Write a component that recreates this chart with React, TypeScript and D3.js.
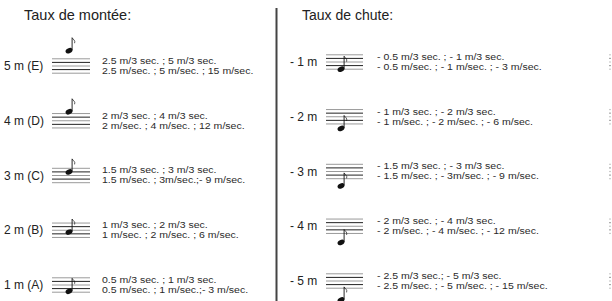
import * as d3 from 'd3'

// data
const riseLabels = ['5 m (E)', '4 m (D)', '3 m (C)', '2 m (B)', '1 m (A)']
const riseLine1 = ['2.5 m/3 sec. ; 5 m/3 sec.', '2 m/3 sec. ; 4 m/3 sec.', '1.5 m/3 sec. ; 3 m/3 sec.', '1 m/3 sec. ; 2 m/3 sec.', '0.5 m/3 sec. ; 1 m/3 sec.']
const riseLine2 = ['2.5 m/sec. ; 5 m/sec. ; 15 m/sec.', '2 m/sec. ; 4 m/sec. ; 12 m/sec.', '1.5 m/sec. ; 3m/sec.;- 9 m/sec.', '1 m/sec. ; 2 m/sec. ; 6 m/sec.', '0.5 m/sec. ; 1 m/sec.;- 3 m/sec.']
// note position in half-spaces below the top staff line
const riseNotePos = [-4.5, -1, 2, 5, 7.5]

const fallLabels = ['- 1 m', '- 2 m', '- 3 m', '- 4 m', '- 5 m']
const fallLine1 = ['- 0.5 m/3 sec. ; - 1 m/3 sec.', '- 1 m/3 sec. ; - 2 m/3 sec.', '- 1.5 m/3 sec. ; - 3 m/3 sec.', '- 2 m/3 sec. ; - 4 m/3 sec.', '- 2.5 m/3 sec.; - 5 m/3 sec.']
const fallLine2 = ['- 0.5 m/sec. ; - 1 m/sec. ; - 3 m/sec.', '- 1 m/sec. ; - 2 m/sec. ; - 6 m/sec.', '- 1.5 m/sec. ; - 3m/sec. ; - 9 m/sec.', '- 2 m/sec. ; - 4 m/sec. ; - 12 m/sec.', '- 2.5 m/sec. ; - 5 m/sec. ;  - 15 m/sec.']
const fallNotePos = [8, 10.5, 12, 13, 14.5]

const W = 612
const H = 301
const FONT = 'Liberation Sans, Arial, Helvetica, sans-serif'
const STAFF_GAP = 3.6
const lineColors = ['#9a9a9a', '#222', '#9a9a9a', '#222', '#9a9a9a']

const yLeft = d3.scaleLinear().domain([0, 4]).range([66, 285])
const yRight = d3.scaleLinear().domain([0, 4]).range([62, 281])

type ColProps = {
  labels: string[]
  line1: string[]
  line2: string[]
  pos: number[]
  y: d3.ScaleLinear<number, number>
  labelX: number
  staffX0: number
  staffX1: number
  noteX: number
  textX: number
  dotsX?: number
}

function Note({ x, y }: { x: number; y: number }) {
  const sx = x + 3.1
  const top = y - 13
  const flag = d3.path()
  flag.moveTo(sx, top)
  flag.bezierCurveTo(sx + 1, top + 2, sx + 3.5, top + 2.5, sx + 2.5, top + 5.5)
  return (
    <g>
      <ellipse cx={x} cy={y} rx={3.6} ry={2.5} transform={`rotate(-25 ${x} ${y})`} fill="#111" />
      <line x1={sx} x2={sx} y1={y - 0.5} y2={top} stroke="#111" strokeWidth={0.9} />
      <path d={flag.toString()} fill="none" stroke="#111" strokeWidth={0.7} />
    </g>
  )
}

function Column(p: ColProps) {
  return (
    <g>
      {p.labels.map((lab, i) => {
        const cy = p.y(i)
        const top = cy - 2 * STAFF_GAP
        const lines = d3.range(5).map((k) => top + k * STAFF_GAP)
        return (
          <g key={lab}>
            <text x={p.labelX} y={cy + 4} fontSize={12} fill="#222" fontFamily={FONT}>
              {lab}
            </text>
            {lines.map((ly, k) => (
              <line key={k} x1={p.staffX0} x2={p.staffX1} y1={ly} y2={ly} stroke={lineColors[k]} strokeWidth={1} />
            ))}
            <Note x={p.noteX} y={top + (p.pos[i] * STAFF_GAP) / 2} />
            <g transform={`translate(${p.textX},0) scale(1.17,1)`}>
              <text x={0} y={cy - 2} fontSize={9} fill="#2a2a2a" fontFamily={FONT}>
                {p.line1[i]}
              </text>
              <text x={0} y={cy + 8} fontSize={9} fill="#2a2a2a" fontFamily={FONT}>
                {p.line2[i]}
              </text>
            </g>
            {p.dotsX !== undefined &&
              lines.map((ly, k) => (
                <rect key={'d' + k} x={p.dotsX} y={ly - 0.6} width={1} height={1.2} fill={k % 2 ? '#555' : '#999'} />
              ))}
          </g>
        )
      })}
    </g>
  )
}

export default function App() {
  return (
    <svg width={W} height={H} style={{ position: 'absolute', left: 0, top: 0, background: '#fff' }}>
      <rect width={W} height={H} fill="#fff" />
      <text x={24} y={20} fontSize={14.5} fill="#222" fontFamily={FONT}>
        Taux de montée:
      </text>
      <text x={302} y={20} fontSize={14} fill="#222" fontFamily={FONT}>
        Taux de chute:
      </text>
      <line x1={276.5} x2={276.5} y1={8} y2={H} stroke="#444" strokeWidth={2} />
      <Column labels={riseLabels} line1={riseLine1} line2={riseLine2} pos={riseNotePos} y={yLeft}
        labelX={4} staffX0={52} staffX1={90} noteX={69} textX={102} />
      <Column labels={fallLabels} line1={fallLine1} line2={fallLine2} pos={fallNotePos} y={yRight}
        labelX={290} staffX0={326} staffX1={363} noteX={341} textX={377} dotsX={609.5} />
    </svg>
  )
}
